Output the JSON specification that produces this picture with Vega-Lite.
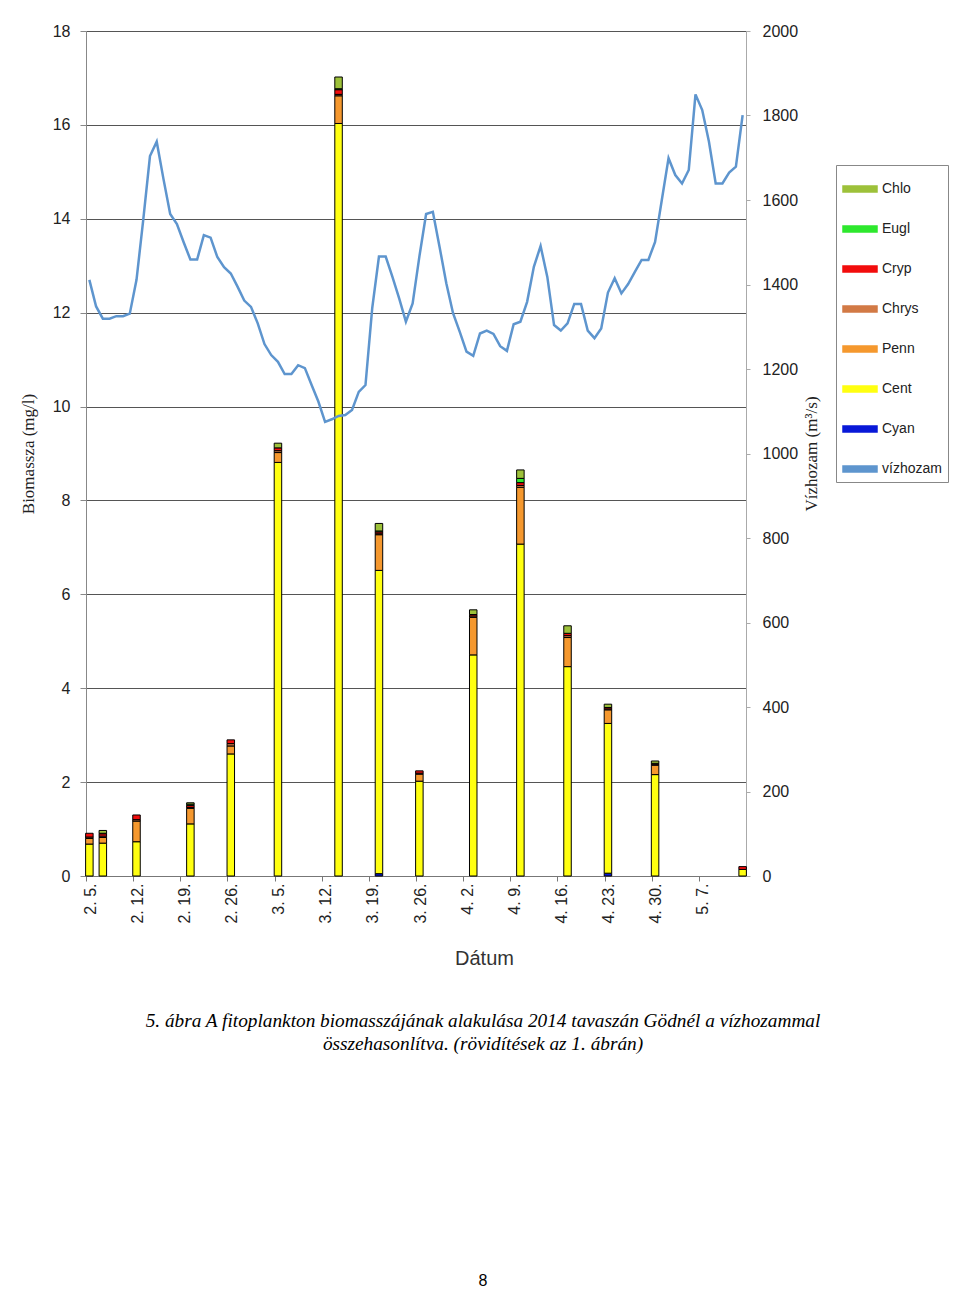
{
 "$schema": "https://vega.github.io/schema/vega-lite/v6.json",
 "width": 660,
 "height": 845,
 "autosize": {"type": "none"},
 "padding": {"left": 86, "top": 31, "right": 214, "bottom": 415},
 "background": "white",
 "config": {"view": {"stroke": null}, "font": "Liberation Sans"},
 "title": {
  "text": ["5. ábra A fitoplankton biomasszájának alakulása 2014 tavaszán Gödnél a vízhozammal", "összehasonlítva.  (rövidítések az 1. ábrán)"],
  "orient": "bottom", "anchor": "middle", "frame": "group", "dx": 67, "offset": 44, "baseline": "top",
  "font": "Liberation Serif", "fontStyle": "italic", "fontWeight": "normal", "fontSize": 19.3, "lineHeight": 22.5, "color": "black",
  "subtitle": "8", "subtitleFont": "Liberation Sans", "subtitleFontSize": 16, "subtitleColor": "black", "subtitlePadding": 219
 },
 "datasets": {
  "bio": [
   {"t": "2014-02-05T12:00Z", "Cyan": 0, "Cent": 0.68, "Penn": 0.12, "Chrys": 0.03, "Cryp": 0.08, "Eugl": 0, "Chlo": 0},
   {"t": "2014-02-07T12:00Z", "Cyan": 0, "Cent": 0.70, "Penn": 0.12, "Chrys": 0.03, "Cryp": 0.05, "Eugl": 0.01, "Chlo": 0.06},
   {"t": "2014-02-12T12:00Z", "Cyan": 0, "Cent": 0.73, "Penn": 0.44, "Chrys": 0.03, "Cryp": 0.10, "Eugl": 0, "Chlo": 0},
   {"t": "2014-02-20T12:00Z", "Cyan": 0, "Cent": 1.11, "Penn": 0.33, "Chrys": 0.02, "Cryp": 0.04, "Eugl": 0.03, "Chlo": 0.03},
   {"t": "2014-02-26T12:00Z", "Cyan": 0, "Cent": 2.60, "Penn": 0.17, "Chrys": 0.05, "Cryp": 0.08, "Eugl": 0, "Chlo": 0},
   {"t": "2014-03-05T12:00Z", "Cyan": 0, "Cent": 8.81, "Penn": 0.21, "Chrys": 0.04, "Cryp": 0.06, "Eugl": 0, "Chlo": 0.10},
   {"t": "2014-03-14T12:00Z", "Cyan": 0, "Cent": 16.03, "Penn": 0.59, "Chrys": 0.03, "Cryp": 0.10, "Eugl": 0.02, "Chlo": 0.25},
   {"t": "2014-03-20T12:00Z", "Cyan": 0.05, "Cent": 6.46, "Penn": 0.76, "Chrys": 0.02, "Cryp": 0.04, "Eugl": 0.02, "Chlo": 0.16},
   {"t": "2014-03-26T12:00Z", "Cyan": 0, "Cent": 2.02, "Penn": 0.15, "Chrys": 0.02, "Cryp": 0.05, "Eugl": 0, "Chlo": 0},
   {"t": "2014-04-03T12:00Z", "Cyan": 0, "Cent": 4.71, "Penn": 0.80, "Chrys": 0.03, "Cryp": 0.03, "Eugl": 0, "Chlo": 0.10},
   {"t": "2014-04-10T12:00Z", "Cyan": 0, "Cent": 7.07, "Penn": 1.21, "Chrys": 0.04, "Cryp": 0.06, "Eugl": 0.09, "Chlo": 0.18},
   {"t": "2014-04-17T12:00Z", "Cyan": 0, "Cent": 4.46, "Penn": 0.62, "Chrys": 0.04, "Cryp": 0.05, "Eugl": 0, "Chlo": 0.16},
   {"t": "2014-04-23T12:00Z", "Cyan": 0.06, "Cent": 3.19, "Penn": 0.29, "Chrys": 0.02, "Cryp": 0.03, "Eugl": 0, "Chlo": 0.07},
   {"t": "2014-04-30T12:00Z", "Cyan": 0, "Cent": 2.16, "Penn": 0.20, "Chrys": 0.02, "Cryp": 0.02, "Eugl": 0, "Chlo": 0.05},
   {"t": "2014-05-13T12:00Z", "Cyan": 0, "Cent": 0.14, "Penn": 0, "Chrys": 0, "Cryp": 0.06, "Eugl": 0, "Chlo": 0}
  ],
  "flow": [
   {"t": "2014-02-05T12:00Z", "q": 1411}, {"t": "2014-02-06T12:00Z", "q": 1348}, {"t": "2014-02-07T12:00Z", "q": 1319}, {"t": "2014-02-08T12:00Z", "q": 1319},
   {"t": "2014-02-09T12:00Z", "q": 1325}, {"t": "2014-02-10T12:00Z", "q": 1325}, {"t": "2014-02-11T12:00Z", "q": 1331}, {"t": "2014-02-12T12:00Z", "q": 1411},
   {"t": "2014-02-13T12:00Z", "q": 1553}, {"t": "2014-02-14T12:00Z", "q": 1704}, {"t": "2014-02-15T12:00Z", "q": 1738}, {"t": "2014-02-16T12:00Z", "q": 1650},
   {"t": "2014-02-17T12:00Z", "q": 1567}, {"t": "2014-02-18T12:00Z", "q": 1543}, {"t": "2014-02-19T12:00Z", "q": 1500}, {"t": "2014-02-20T12:00Z", "q": 1459},
   {"t": "2014-02-21T12:00Z", "q": 1459}, {"t": "2014-02-22T12:00Z", "q": 1517}, {"t": "2014-02-23T12:00Z", "q": 1511}, {"t": "2014-02-24T12:00Z", "q": 1465},
   {"t": "2014-02-25T12:00Z", "q": 1441}, {"t": "2014-02-26T12:00Z", "q": 1426}, {"t": "2014-02-27T12:00Z", "q": 1395}, {"t": "2014-02-28T12:00Z", "q": 1362},
   {"t": "2014-03-01T12:00Z", "q": 1347}, {"t": "2014-03-02T12:00Z", "q": 1308}, {"t": "2014-03-03T12:00Z", "q": 1259}, {"t": "2014-03-04T12:00Z", "q": 1233},
   {"t": "2014-03-05T12:00Z", "q": 1217}, {"t": "2014-03-06T12:00Z", "q": 1188}, {"t": "2014-03-07T12:00Z", "q": 1188}, {"t": "2014-03-08T12:00Z", "q": 1209},
   {"t": "2014-03-09T12:00Z", "q": 1202}, {"t": "2014-03-10T12:00Z", "q": 1162}, {"t": "2014-03-11T12:00Z", "q": 1123}, {"t": "2014-03-12T12:00Z", "q": 1075},
   {"t": "2014-03-13T12:00Z", "q": 1081}, {"t": "2014-03-14T12:00Z", "q": 1089}, {"t": "2014-03-15T12:00Z", "q": 1091}, {"t": "2014-03-16T12:00Z", "q": 1103},
   {"t": "2014-03-17T12:00Z", "q": 1146}, {"t": "2014-03-18T12:00Z", "q": 1162}, {"t": "2014-03-19T12:00Z", "q": 1344}, {"t": "2014-03-20T12:00Z", "q": 1466},
   {"t": "2014-03-21T12:00Z", "q": 1466}, {"t": "2014-03-22T12:00Z", "q": 1418}, {"t": "2014-03-23T12:00Z", "q": 1367}, {"t": "2014-03-24T12:00Z", "q": 1312},
   {"t": "2014-03-25T12:00Z", "q": 1355}, {"t": "2014-03-26T12:00Z", "q": 1466}, {"t": "2014-03-27T12:00Z", "q": 1567}, {"t": "2014-03-28T12:00Z", "q": 1572},
   {"t": "2014-03-29T12:00Z", "q": 1489}, {"t": "2014-03-30T12:00Z", "q": 1403}, {"t": "2014-03-31T12:00Z", "q": 1332}, {"t": "2014-04-01T12:00Z", "q": 1288},
   {"t": "2014-04-02T12:00Z", "q": 1241}, {"t": "2014-04-03T12:00Z", "q": 1231}, {"t": "2014-04-04T12:00Z", "q": 1284}, {"t": "2014-04-05T12:00Z", "q": 1291},
   {"t": "2014-04-06T12:00Z", "q": 1283}, {"t": "2014-04-07T12:00Z", "q": 1254}, {"t": "2014-04-08T12:00Z", "q": 1243}, {"t": "2014-04-09T12:00Z", "q": 1306},
   {"t": "2014-04-10T12:00Z", "q": 1312}, {"t": "2014-04-11T12:00Z", "q": 1359}, {"t": "2014-04-12T12:00Z", "q": 1442}, {"t": "2014-04-13T12:00Z", "q": 1491},
   {"t": "2014-04-14T12:00Z", "q": 1418}, {"t": "2014-04-15T12:00Z", "q": 1304}, {"t": "2014-04-16T12:00Z", "q": 1291}, {"t": "2014-04-17T12:00Z", "q": 1308},
   {"t": "2014-04-18T12:00Z", "q": 1354}, {"t": "2014-04-19T12:00Z", "q": 1354}, {"t": "2014-04-20T12:00Z", "q": 1291}, {"t": "2014-04-21T12:00Z", "q": 1273},
   {"t": "2014-04-22T12:00Z", "q": 1296}, {"t": "2014-04-23T12:00Z", "q": 1381}, {"t": "2014-04-24T12:00Z", "q": 1415}, {"t": "2014-04-25T12:00Z", "q": 1379},
   {"t": "2014-04-26T12:00Z", "q": 1401}, {"t": "2014-04-27T12:00Z", "q": 1430}, {"t": "2014-04-28T12:00Z", "q": 1458}, {"t": "2014-04-29T12:00Z", "q": 1458},
   {"t": "2014-04-30T12:00Z", "q": 1501}, {"t": "2014-05-01T12:00Z", "q": 1600}, {"t": "2014-05-02T12:00Z", "q": 1699}, {"t": "2014-05-03T12:00Z", "q": 1659},
   {"t": "2014-05-04T12:00Z", "q": 1639}, {"t": "2014-05-05T12:00Z", "q": 1671}, {"t": "2014-05-06T12:00Z", "q": 1850}, {"t": "2014-05-07T12:00Z", "q": 1813},
   {"t": "2014-05-08T12:00Z", "q": 1738}, {"t": "2014-05-09T12:00Z", "q": 1639}, {"t": "2014-05-10T12:00Z", "q": 1639}, {"t": "2014-05-11T12:00Z", "q": 1665},
   {"t": "2014-05-12T12:00Z", "q": 1679}, {"t": "2014-05-13T12:00Z", "q": 1801}
  ]
 },
 "encoding": {
  "x": {
   "field": "t", "type": "temporal",
   "scale": {"type": "utc", "padding": 0, "domain": [{"year": 2014, "month": 2, "date": 5, "utc": true}, {"year": 2014, "month": 5, "date": 14, "utc": true}]},
   "axis": {
    "title": "Dátum", "titleFont": "Liberation Sans", "titleFontSize": 20, "titleFontWeight": "normal", "titleColor": "#333", "titlePadding": 25, "titleX": 398,
    "values": [
     {"year": 2014, "month": 2, "date": 5, "utc": true}, {"year": 2014, "month": 2, "date": 12, "utc": true},
     {"year": 2014, "month": 2, "date": 19, "utc": true}, {"year": 2014, "month": 2, "date": 26, "utc": true},
     {"year": 2014, "month": 3, "date": 5, "utc": true}, {"year": 2014, "month": 3, "date": 12, "utc": true},
     {"year": 2014, "month": 3, "date": 19, "utc": true}, {"year": 2014, "month": 3, "date": 26, "utc": true},
     {"year": 2014, "month": 4, "date": 2, "utc": true}, {"year": 2014, "month": 4, "date": 9, "utc": true},
     {"year": 2014, "month": 4, "date": 16, "utc": true}, {"year": 2014, "month": 4, "date": 23, "utc": true},
     {"year": 2014, "month": 4, "date": 30, "utc": true}, {"year": 2014, "month": 5, "date": 7, "utc": true}
    ],
    "format": "%-m. %-d.", "labelAngle": -90, "labelBaseline": "middle", "labelOffset": 4, "labelPadding": 2, "labelFont": "Liberation Sans", "labelFontSize": 16, "labelColor": "#222",
    "tickSize": 5, "tickColor": "#777", "domainColor": "#777", "grid": false, "labelOverlap": false, "labelFlush": false
   }
  }
 },
 "layer": [
  {
   "data": {"name": "bio"},
   "transform": [
    {"fold": ["Cyan", "Cent", "Penn", "Chrys", "Cryp", "Eugl", "Chlo"], "as": ["taxon", "biomass"]},
    {"filter": "datum.biomass > 0"},
    {"window": [{"op": "row_number", "as": "k"}], "groupby": ["t"]}
   ],
   "mark": {"type": "bar", "size": 7.5, "stroke": "black", "strokeWidth": 1},
   "encoding": {
    "y": {
     "field": "biomass", "type": "quantitative", "stack": "zero",
     "scale": {"domain": [0, 18], "nice": false},
     "axis": {
      "title": "Biomassza (mg/l)", "titleFont": "Liberation Serif", "titleFontSize": 17, "titleFontWeight": "normal", "titleColor": "#222", "titlePadding": 15,
      "values": [0, 2, 4, 6, 8, 10, 12, 14, 16, 18],
      "labelFont": "Liberation Sans", "labelFontSize": 16, "labelColor": "#222", "labelPadding": 10,
      "tickSize": 6, "tickColor": "#888", "domainColor": "#888",
      "grid": true, "gridColor": "#555", "gridWidth": 1.2
     }
    },
    "order": {"field": "k", "type": "quantitative", "sort": "ascending"},
    "color": {
     "field": "taxon", "type": "nominal",
     "scale": {
      "domain": ["Cyan", "Cent", "Penn", "Chrys", "Cryp", "Eugl", "Chlo", "vízhozam"],
      "range": ["#0818D8", "#FFFF10", "#F5982E", "#D27A45", "#F20D0D", "#2EE82E", "#9DC13A", "#5E95CE"]
     },
     "legend": {
      "title": null, "orient": "none", "legendX": 750, "legendY": 134,
      "values": ["Chlo", "Eugl", "Cryp", "Chrys", "Penn", "Cent", "Cyan", "vízhozam"],
      "labelFont": "Liberation Sans", "labelFontSize": 14, "labelColor": "#222", "labelOffset": 4,
      "symbolType": "M-1,-0.17H1V0.17H-1Z", "symbolSize": 1156, "symbolStrokeWidth": 1.5, "symbolStrokeColor": "black",
      "rowPadding": 15, "padding": 6, "strokeColor": "#888", "fillColor": "white"
     }
    }
   }
  },
  {
   "data": {"name": "flow"},
   "mark": {"type": "line", "strokeWidth": 2.5},
   "encoding": {
    "y": {
     "field": "q", "type": "quantitative",
     "scale": {"domain": [0, 2000], "nice": false},
     "axis": {
      "orient": "right", "title": "Vízhozam (m³/s)", "titleFont": "Liberation Serif", "titleFontSize": 17, "titleFontWeight": "normal", "titleColor": "#222", "titleAngle": 270, "titlePadding": 23,
      "values": [0, 200, 400, 600, 800, 1000, 1200, 1400, 1600, 1800, 2000], "format": "d",
      "labelFont": "Liberation Sans", "labelFontSize": 16, "labelColor": "#222", "labelPadding": 12,
      "tickSize": 4, "tickColor": "#aaa", "domainColor": "#aaa", "grid": false
     }
    },
    "color": {"datum": "vízhozam"}
   }
  }
 ],
 "resolve": {"scale": {"y": "independent"}}
}
